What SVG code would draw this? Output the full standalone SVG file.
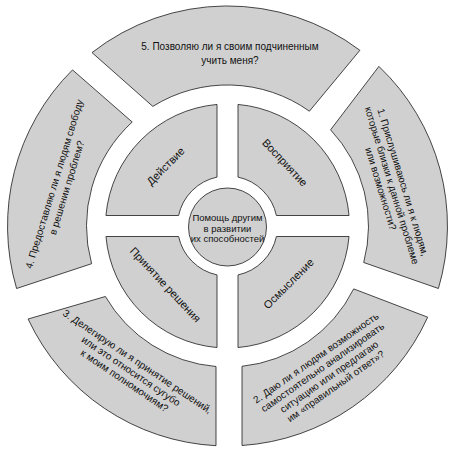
<svg xmlns="http://www.w3.org/2000/svg" width="458" height="453" viewBox="0 0 458 453">
<style>
.seg{fill:#d0d0d0;stroke:#1a1a1a;stroke-width:0.8}
.t{font-family:"Liberation Sans",Arial,sans-serif;font-size:10px;fill:#111;text-anchor:middle}
.q{font-size:11px}
.c{font-size:9.5px}
</style>
<rect width="458" height="453" fill="#ffffff"/>
<g id="connectors"></g>
<g id="seg5">
<path class="seg" d="M92,52.6 A220,220 0 0 1 359.9,50.3 L309.4,111.2 A141,141 0 0 0 152.8,106.4 Z"/>
<text class="t" x="230" y="50">5. Позволяю ли я своим подчиненным</text>
<text class="t" x="230" y="63.5">учить меня?</text>
</g>
<g id="seg1">
<path class="seg" d="M378.9,66.4 A220,220 0 0 1 438.4,288.5 L363.7,262.5 A141,141 0 0 0 330.6,129.8 Z"/>
<g transform="translate(392,185.5) rotate(73)">
<text class="t" x="0" y="-8">1. Прислушиваюсь ли я к людям,</text>
<text class="t" x="0" y="3.5">которые близки к данной проблеме</text>
<text class="t" x="0" y="15">или возможности?</text>
</g>
</g>
<g id="seg2">
<path class="seg" d="M427.7,317.2 A220,220 0 0 1 242,445.5 L242,366.3 A141,141 0 0 0 353.7,288.9 Z"/>
<g transform="translate(325.8,372) rotate(-35)">
<text class="t" x="0" y="-13.75">2. Даю ли я людям возможность</text>
<text class="t" x="0" y="-2.25">самостоятельно анализировать</text>
<text class="t" x="0" y="9.25">ситуацию или предлагаю</text>
<text class="t" x="0" y="20.75">им «правильный ответ»?</text>
</g>
</g>
<g id="seg3">
<path class="seg" d="M216,445.7 A220,220 0 0 1 28.1,319 L105.4,296.5 A141,141 0 0 0 216,366.5 Z"/>
<g transform="translate(131,371) rotate(34)">
<text class="t" x="0" y="-8">3. Делегирую ли я принятие решений,</text>
<text class="t" x="0" y="3.5">или это относится сугубо</text>
<text class="t" x="0" y="15">к моим полномочиям?</text>
</g>
</g>
<g id="seg4">
<path class="seg" d="M16.6,288.5 A220,220 0 0 1 72.5,69.9 L132.2,122 A141,141 0 0 0 91.6,263.7 Z"/>
<g transform="translate(60.4,185.8) rotate(-73)">
<text class="t" x="0" y="-3">4. Предоставляю ли я людям свободу</text>
<text class="t" x="0" y="10">в решении проблем?</text>
</g>
</g>
<g id="q-action">
<path class="seg" d="M178.6,215.5 L105.95,215.5 A122,122 0 0 1 217,104.45 L217,177.1 A50,50 0 0 0 178.6,215.5 Z"/>
<text class="t q" transform="translate(165.5,166) rotate(-45)" x="0" y="4">Действие</text>
</g>
<g id="q-perception">
<path class="seg" d="M238,177.1 L238,104.45 A122,122 0 0 1 349.05,215.5 L276.4,215.5 A50,50 0 0 0 238,177.1 Z"/>
<text class="t q" transform="translate(285,162.5) rotate(47)" x="0" y="4">Восприятие</text>
</g>
<g id="q-comprehension">
<path class="seg" d="M276.4,236.5 L349.05,236.5 A122,122 0 0 1 238,347.55 L238,274.9 A50,50 0 0 0 276.4,236.5 Z"/>
<text class="t q" transform="translate(288.5,283.5) rotate(-45)" x="0" y="4">Осмысление</text>
</g>
<g id="q-decision">
<path class="seg" d="M217,274.9 L217,347.55 A122,122 0 0 1 105.95,236.5 L178.6,236.5 A50,50 0 0 0 217,274.9 Z"/>
<text class="t q" transform="translate(165.5,284.5) rotate(47)" x="0" y="4">Принятие решения</text>
</g>
<g id="center">
<circle class="seg" cx="227.5" cy="227" r="39"/>
<text class="t c" x="227.5" y="221">Помощь другим</text>
<text class="t c" x="227.5" y="231.5">в развитии</text>
<text class="t c" x="227.5" y="242">их способностей</text>
</g>
</svg>
